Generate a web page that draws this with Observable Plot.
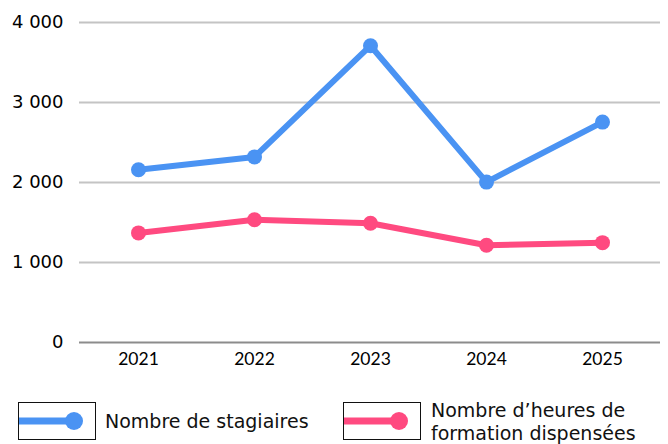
<!DOCTYPE html>
<html><head><meta charset="utf-8">
<script src="https://cdn.jsdelivr.net/npm/d3@7"></script>
<script src="https://cdn.jsdelivr.net/npm/@observablehq/plot@0.6"></script>
<style>
body{margin:0;background:#fff;font-family:Lato,sans-serif;overflow:hidden;}
#legend{position:relative;height:64px;}
.box{position:absolute;top:22px;width:78px;height:38px;border:1px solid #111;box-sizing:border-box;}
.lbl{position:absolute;font-family:"DejaVu Sans",sans-serif;font-size:19px;color:#111;line-height:22.5px;height:22.5px;white-space:nowrap;}
</style></head>
<body>
<div id="chart"></div>
<div id="legend"></div>
<script>
const years = ["2021","2022","2023","2024","2025"];
const stagiaires = [2160, 2320, 3710, 2005, 2755];
const heures = [1370, 1535, 1490, 1215, 1248];
const seriesNames = ["Nombre de stagiaires", "Nombre d’heures de formation dispensées"];
const legendLines = [["Nombre de stagiaires"], ["Nombre d’heures de", "formation dispensées"]];
const seriesColors = ["#4a93f3", "#ff4a80"];
const yTicks = [0, 1000, 2000, 3000, 4000];

const data = [];
years.forEach((y,i)=>{
  data.push({year:y, value:stagiaires[i], s:seriesNames[0]});
  data.push({year:y, value:heures[i], s:seriesNames[1]});
});
const fmt = d => d3.format(",")(d).replace(/,/g," ");

const plot = Plot.plot({
  width: 668, height: 380,
  marginLeft: 79, marginRight: 8, marginTop: 22, marginBottom: 38,
  style: {fontFamily: "Lato, sans-serif", fontSize: "16px", color: "#000", background: "#fff"},
  x: {type: "point", domain: years, padding: 0.5, label: null},
  y: {domain: [0, 4000], label: null},
  color: {domain: seriesNames, range: seriesColors},
  marks: [
    Plot.gridY(yTicks.filter(d=>d>0), {stroke: "#c4c4c4", strokeOpacity: 1, strokeWidth: 2}),
    Plot.ruleY([0], {stroke: "#8c8c8c", strokeWidth: 2}),
    Plot.axisY({ticks: yTicks, tickFormat: fmt, tickSize: 0, tickPadding: 16, fontFamily: "DejaVu Sans", fontSize: 18, label: null}),
    Plot.axisX({tickSize: 0, tickPadding: 10, fontSize: 17.5, label: null}),
    Plot.line(data, {x: "year", y: "value", z: "s", stroke: "s", strokeWidth: 6}),
    Plot.dot(data, {x: "year", y: "value", fill: "s", r: 7.5})
  ]
});
document.getElementById("chart").appendChild(plot);

const leg = document.getElementById("legend");
const boxX = [18, 343];
const textX = [105, 431];
seriesNames.forEach((n,i)=>{
  const box = document.createElement("div"); box.className="box";
  box.style.left = boxX[i]+"px";
  const svg = d3.create("svg").attr("width",76).attr("height",36).style("display","block");
  svg.append("line").attr("x1",0).attr("x2",55).attr("y1",18).attr("y2",18).attr("stroke",seriesColors[i]).attr("stroke-width",7);
  svg.append("circle").attr("cx",55).attr("cy",18).attr("r",9).attr("fill",seriesColors[i]);
  box.appendChild(svg.node());
  leg.appendChild(box);
  const top0 = i===0 ? 30 : 19;
  legendLines[i].forEach((t,j)=>{
    const l = document.createElement("div"); l.className="lbl";
    l.style.left = textX[i]+"px";
    l.style.top = (top0 + j*22.5) + "px";
    l.textContent = t;
    leg.appendChild(l);
  });
});
</script>
</body></html>
